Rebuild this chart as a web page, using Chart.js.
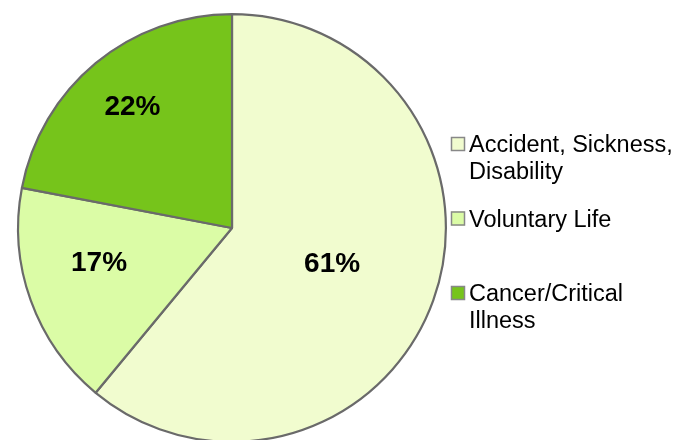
<!DOCTYPE html>
<html>
<head>
<meta charset="utf-8">
<script src="https://cdn.jsdelivr.net/npm/chart.js@4/dist/chart.umd.min.js"></script>
<style>
  html, body { margin: 0; padding: 0; background: #fff; overflow: hidden; }
  #wrap { width: 677px; height: 440px; overflow: hidden; }
</style>
</head>
<body>
<div id="wrap"><canvas id="chart" width="677" height="456"></canvas></div>
<script>
// benefit mix, percent of total
const categories = ['Accident, Sickness, Disability', 'Voluntary Life', 'Cancer/Critical Illness'];
const shares = [61, 17, 22];
const sliceColors = ['#f1fccf', '#dbfca6', '#76c41b'];

// where each percent label sits: fraction of radius, angle nudge in degrees
const labelPlace = [[0.495, 0], [0.64, 5], [0.727, 0]];

const pctLabels = {
  id: 'pctLabels',
  afterDatasetsDraw(chart) {
    const ctx = chart.ctx;
    const meta = chart.getDatasetMeta(0);
    ctx.save();
    ctx.font = 'bold 28px "Liberation Sans", Arial, sans-serif';
    ctx.fillStyle = '#000';
    ctx.textAlign = 'center';
    ctx.textBaseline = 'middle';
    meta.data.forEach((arc, i) => {
      const p = arc.getProps(['x', 'y', 'startAngle', 'endAngle', 'outerRadius'], true);
      const a = (p.startAngle + p.endAngle) / 2 + labelPlace[i][1] * Math.PI / 180;
      const r = (p.outerRadius + 1) * labelPlace[i][0];
      ctx.fillText(shares[i] + '%', p.x + Math.cos(a) * r, p.y + Math.sin(a) * r);
    });
    ctx.restore();
  }
};

// legend on the right with wrapped labels
const sideLegend = {
  id: 'sideLegend',
  afterDraw(chart) {
    const ctx = chart.ctx;
    const x0 = 451, box = 14, textX = 469, maxW = 206;
    const lineH = 26.5, step = 74.5;
    let base = 152;
    ctx.save();
    ctx.font = '23.5px "Liberation Sans", Arial, sans-serif';
    ctx.textBaseline = 'alphabetic';
    ctx.textAlign = 'left';
    categories.forEach((label, i) => {
      // greedy word wrap
      const words = label.split(' ');
      const lines = [];
      let cur = '';
      words.forEach(w => {
        const t = cur ? cur + ' ' + w : w;
        if (cur && ctx.measureText(t).width > maxW) {
          lines.push(cur);
          cur = w;
        } else {
          cur = t;
        }
      });
      if (cur) lines.push(cur);

      ctx.fillStyle = sliceColors[i];
      ctx.fillRect(x0, base - 15, box, box);
      ctx.strokeStyle = '#888';
      ctx.lineWidth = 1.5;
      ctx.strokeRect(x0 + 0.5, base - 14.5, box - 1, box - 1);

      ctx.fillStyle = '#000';
      lines.forEach((ln, j) => ctx.fillText(ln, textX, base + j * lineH));
      base += step;
    });
    ctx.restore();
  }
};

new Chart(document.getElementById('chart').getContext('2d'), {
  type: 'pie',
  data: {
    labels: categories,
    datasets: [{
      data: shares,
      backgroundColor: sliceColors,
      borderColor: '#6a6a6a',
      borderWidth: 2.2
    }]
  },
  options: {
    responsive: false,
    animation: false,
    layout: { padding: { left: 17, right: 230, top: 13, bottom: 13 } },
    plugins: {
      legend: { display: false },
      tooltip: { enabled: false }
    }
  },
  plugins: [pctLabels, sideLegend]
});
</script>
</body>
</html>
